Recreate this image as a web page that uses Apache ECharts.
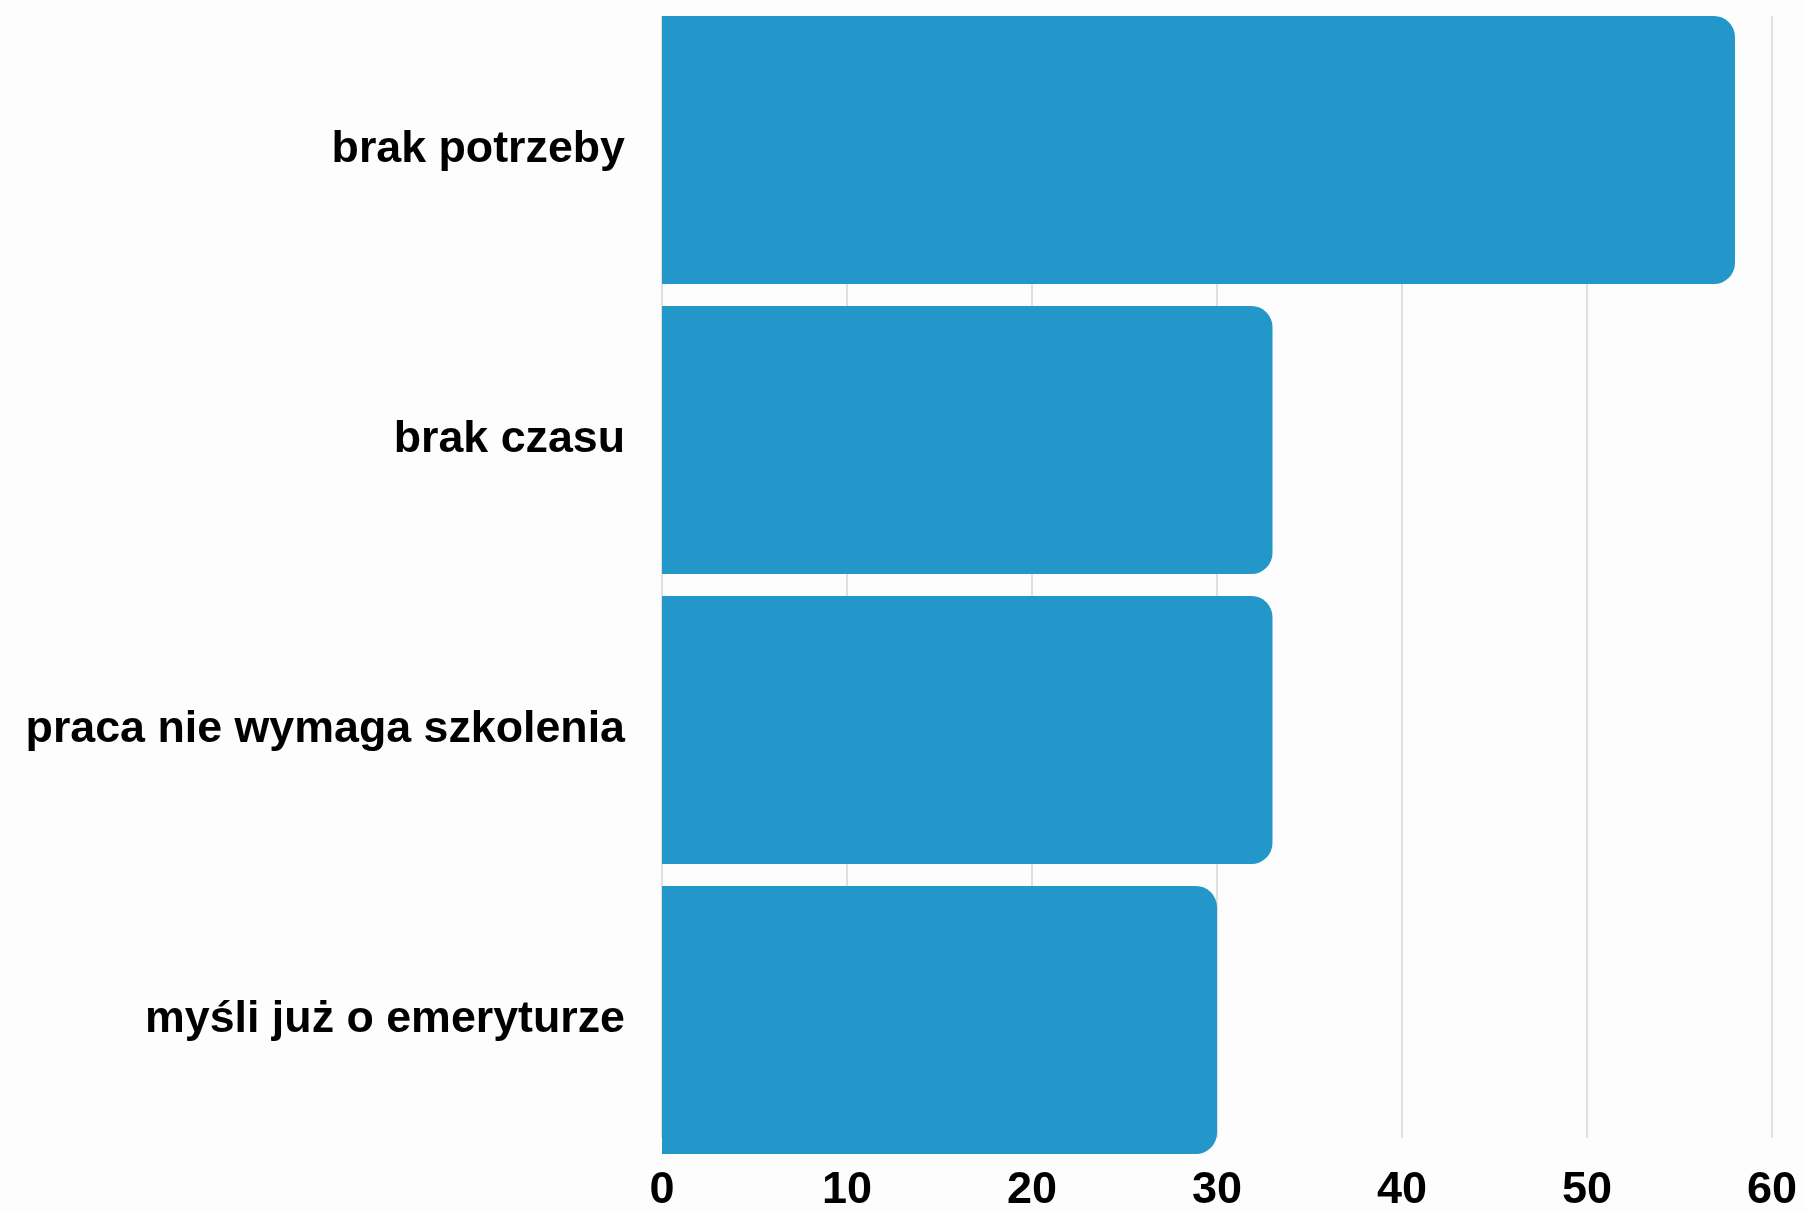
<!DOCTYPE html>
<html>
<head>
<meta charset="utf-8">
<style>
  html, body { margin: 0; padding: 0; background: #fdfdfd; }
  #chart { width: 1806px; height: 1213px; }
</style>
<script src="https://cdn.jsdelivr.net/npm/echarts@6/dist/echarts.min.js"></script>
</head>
<body>
<div id="chart"></div>
<script>
// Reasons given, top to bottom
const categories = ['brak potrzeby', 'brak czasu', 'praca nie wymaga szkolenia', 'myśli już o emeryturze'];
const values = [58, 33, 33, 30];
const axisMin = 0;
const axisMax = 60;
const axisStep = 10;

const FONT = '"Liberation Sans", Arial, sans-serif';
const BAR = '#2497ca';

const chart = echarts.init(document.getElementById('chart'), null, { renderer: 'canvas' });

chart.setOption({
  backgroundColor: '#fdfdfd',
  animation: false,
  grid: [
    // bars
    { left: 662, right: 34, top: 5, height: 1160 },
    // vertical grid lines and tick labels
    { left: 662, right: 34, top: 16, height: 1138 }
  ],
  xAxis: [
    {
      gridIndex: 0, type: 'value', min: axisMin, max: axisMax, interval: axisStep,
      axisLine: { show: false }, axisTick: { show: false },
      axisLabel: { show: false }, splitLine: { show: false }
    },
    {
      gridIndex: 1, type: 'value', min: axisMin, max: axisMax, interval: axisStep,
      axisLine: { show: false }, axisTick: { show: false },
      axisLabel: {
        show: true, margin: 30, color: '#000',
        fontFamily: FONT, fontWeight: 'bold', fontSize: 45
      },
      splitLine: { show: true, lineStyle: { color: '#d6d6d6', width: 1.5 } }
    }
  ],
  yAxis: [
    {
      gridIndex: 0, type: 'category', data: categories, inverse: true,
      axisLine: { show: false }, axisTick: { show: false },
      axisLabel: {
        margin: 37, color: '#000',
        fontFamily: FONT, fontWeight: 'bold', fontSize: 44.75
      }
    },
    {
      gridIndex: 1, type: 'category', data: categories, inverse: true,
      show: false
    }
  ],
  series: [
    {
      type: 'bar',
      xAxisIndex: 0, yAxisIndex: 0,
      data: values,
      barCategoryGap: '7.6%',
      itemStyle: { color: BAR, borderRadius: [0, 21, 21, 0] },
      z: 3
    }
  ]
});
</script>
</body>
</html>
